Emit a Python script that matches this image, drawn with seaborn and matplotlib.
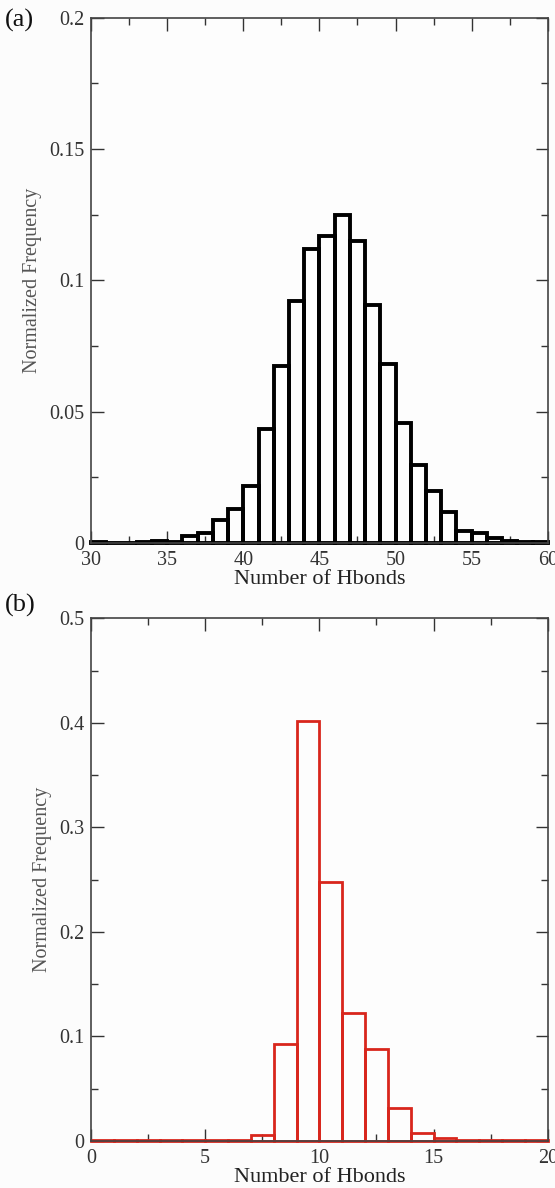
import numpy as np
import pandas as pd
import matplotlib
matplotlib.use("Agg")
import matplotlib.pyplot as plt
import seaborn as sns
from matplotlib.ticker import MultipleLocator

# ---------------- data ----------------
# Panel (a): left edges of 1-wide bins and normalized frequencies
hbonds_a = list(range(30, 60))
freq_a = [0.0004, 0.0001, 0.0001, 0.0002, 0.0006, 0.0004, 0.0025, 0.0036,
          0.0089, 0.0130, 0.0218, 0.0434, 0.0672, 0.0922, 0.1120, 0.1170,
          0.1248, 0.1150, 0.0907, 0.0682, 0.0458, 0.0298, 0.0198, 0.0116,
          0.0045, 0.0039, 0.0017, 0.0008, 0.0002, 0.0004]

# Panel (b)
hbonds_b = list(range(0, 20))
freq_b = [0.0005, 0.0005, 0.0005, 0.0005, 0.0005, 0.0005, 0.0005, 0.0054,
          0.0930, 0.4020, 0.2480, 0.1224, 0.0880, 0.0320, 0.0077, 0.0032,
          0.0005, 0.0005, 0.0005, 0.0005]

xlabel = "Number of Hbonds"
ylabel = "Normalized Frequency"
panel_labels = ["(a)", "(b)"]

df_a = pd.DataFrame({"center": [h + 0.5 for h in hbonds_a], "freq": freq_a})
df_b = pd.DataFrame({"center": [h + 0.5 for h in hbonds_b], "freq": freq_b})

# ---------------- style ----------------
sns.set_theme(style="white")
plt.rcParams["font.family"] = ["Liberation Serif", "DejaVu Serif"]

fig = plt.figure(figsize=(5.55, 11.88), dpi=100)
fig.patch.set_facecolor("#fcfcfc")

ax_a = fig.add_axes([0.164, 0.543, 0.823, 0.442])
ax_b = fig.add_axes([0.164, 0.0396, 0.823, 0.440])

def style_axes(ax, xlim, ylim, xmaj, xmin, ymaj, ymin):
    ax.set_facecolor("#fdfdfd")
    ax.set_xlim(*xlim)
    ax.set_ylim(*ylim)
    ax.xaxis.set_major_locator(MultipleLocator(xmaj))
    ax.xaxis.set_minor_locator(MultipleLocator(xmin))
    ax.yaxis.set_major_locator(MultipleLocator(ymaj))
    ax.yaxis.set_minor_locator(MultipleLocator(ymin))
    ax.tick_params(which="both", direction="in", top=True, right=True,
                   bottom=True, left=True, colors="#333333", width=1.0)
    ax.tick_params(which="major", length=9, labelsize=14.5)
    ax.tick_params(axis="x", which="major", pad=6)
    ax.tick_params(axis="y", which="major", pad=5)
    ax.tick_params(which="minor", length=5)
    for sp in ax.spines.values():
        sp.set_color("#444444")
        sp.set_linewidth(1.2)
    ax.set_xlabel(xlabel, fontsize=16, color="#222222", labelpad=0)
    ax.set_ylabel(ylabel, fontsize=14.5, color="#555555", labelpad=5)
    ax.grid(False)

# Panel (a)
sns.histplot(data=df_a, x="center", weights="freq",
             binwidth=1, binrange=(hbonds_a[0], hbonds_a[-1] + 1),
             fill=False, element="bars", color="black",
             linewidth=2.8, ax=ax_a)
style_axes(ax_a, (30, 60), (0, 0.2), 5, 2.5, 0.05, 0.025)
ax_a.set_yticks([0, 0.05, 0.1, 0.15, 0.2])
ax_a.set_yticklabels(["0", "0.05", "0.1", "0.15", "0.2"])

# Panel (b)
sns.histplot(data=df_b, x="center", weights="freq",
             binwidth=1, binrange=(hbonds_b[0], hbonds_b[-1] + 1),
             fill=False, element="bars", color="#d8261c",
             linewidth=2.0, ax=ax_b)
style_axes(ax_b, (0, 20), (0, 0.5), 5, 2.5, 0.1, 0.05)
ax_b.set_yticks([0, 0.1, 0.2, 0.3, 0.4, 0.5])
ax_b.set_yticklabels(["0", "0.1", "0.2", "0.3", "0.4", "0.5"])

for p in ax_a.patches + ax_b.patches:
    p.set_clip_on(False)

fig.text(0.008, 1 - 20 / 1188, panel_labels[0], fontsize=19, color="#111111",
         ha="left", va="center")
fig.text(0.008, 1 - 605 / 1188, panel_labels[1], fontsize=19, color="#111111",
         ha="left", va="center")

fig.savefig("out.png", dpi=100, facecolor=fig.get_facecolor())
